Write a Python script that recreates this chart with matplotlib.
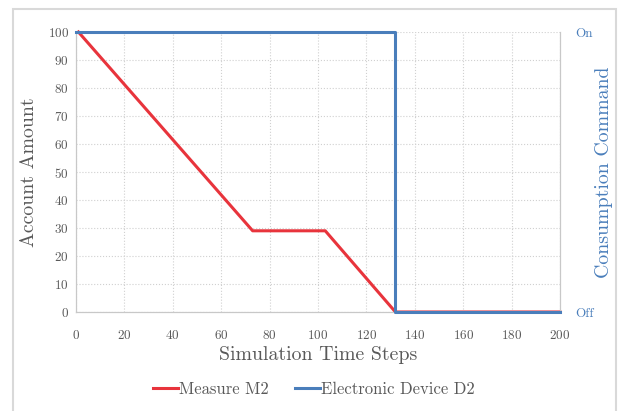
import matplotlib
matplotlib.use("Agg")
import matplotlib.pyplot as plt
from matplotlib.patches import Rectangle

plt.rcParams['font.family'] = ['cmr10', 'DejaVu Serif']
plt.rcParams['axes.formatter.use_mathtext'] = True

# data
measure_steps = [1, 73, 103, 132, 200]
measure_amount = [100, 29, 29, 0, 0]
device_steps = [0, 132, 132, 200]
device_state = [1, 1, 0, 0]
command_labels = ['Off', 'On']
x_ticks = list(range(0, 201, 20))
y_ticks = list(range(0, 101, 10))

red = '#E8343C'
blue = '#4A7EBB'
grey = '#595959'

fig = plt.figure(figsize=(6.21, 4.11), dpi=100)
ax = fig.add_axes([76/621, 1 - 312/411, (560 - 76)/621, (312 - 32)/411])
ax2 = ax.twinx()

l1, = ax.plot(measure_steps, measure_amount, color=red, lw=2.2,
              label='Measure M2', clip_on=False)
l2, = ax2.plot(device_steps, device_state, color=blue, lw=2.2,
               label='Electronic Device D2', clip_on=False)

ax.set_xlim(0, 200)
ax.set_ylim(0, 100)
ax2.set_ylim(0, 1)
ax.set_xticks(x_ticks)
ax.set_yticks(y_ticks)
ax2.set_yticks([0, 1])
ax2.set_yticklabels(command_labels)

ax.grid(True, linestyle=':', color='#D0D0D0', lw=0.8)
ax.set_axisbelow(True)
for a in (ax, ax2):
    for s in a.spines.values():
        s.set_color('#C8C8C8')
        s.set_zorder(0)
    a.spines['top'].set_visible(False)
ax.tick_params(axis='both', length=0, labelsize=9.5, labelcolor=grey)
ax.tick_params(axis='x', pad=12)
ax.tick_params(axis='y', pad=5)
ax2.tick_params(axis='y', length=0, labelsize=9.5, labelcolor=blue, pad=11)

ax.set_xlabel('Simulation Time Steps', fontsize=14.3, color=grey, labelpad=3)
ax.set_ylabel('Account Amount', fontsize=14.3, color=grey, labelpad=7)
ax2.set_ylabel('Consumption Command', fontsize=14.3, color=blue, labelpad=1)

fig.legend(handles=[l1, l2], loc='center', bbox_to_anchor=(314/621, 1 - 389/411),
           ncol=2, frameon=False, fontsize=12, labelcolor=grey,
           handlelength=1.5, handletextpad=0.05, columnspacing=1.6)

fig.patches.append(Rectangle((13/621, -0.02), 603/621, (411 - 9)/411 + 0.02,
                             transform=fig.transFigure, fill=False,
                             edgecolor='#D9D9D9', lw=1.5))

fig.savefig('out.png', dpi=100)
